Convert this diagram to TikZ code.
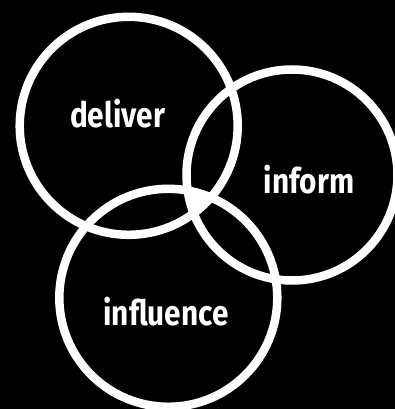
\documentclass[tikz,border=0pt]{standalone}
\usepackage{fontspec}
\newfontfamily\labfont[FakeStretch=0.85]{Fira Sans}
\begin{document}
\begin{tikzpicture}[x=1pt,y=-1pt,
  ring/.style={draw=white,line width=8.5pt},
  lab/.style={text=white,font=\labfont\bfseries\fontsize{35}{35}\selectfont,anchor=base,inner sep=0pt}]
\fill[black] (0,0) rectangle (395,409);
\useasboundingbox (0,0) rectangle (395,409);
\coordinate (cd) at (128.7,125.8);
\coordinate (ci) at (292,175);
\coordinate (cf) at (168.3,297.8);
\begin{scope}
  \clip (cd) circle[radius=109];
  \clip (ci) circle[radius=105.5];
  \fill[white] (cf) circle[radius=109];
\end{scope}
\draw[ring] (cd) circle[radius=109];
\draw[ring] (ci) circle[radius=105.5];
\draw[ring] (cf) circle[radius=109];
\node[lab] (deliver) at (117.5,127) {deliver};
\node[lab] (inform) at (309,193) {inform};
\node[lab] (influence) at (166,325) {influence};
\end{tikzpicture}
\end{document}
